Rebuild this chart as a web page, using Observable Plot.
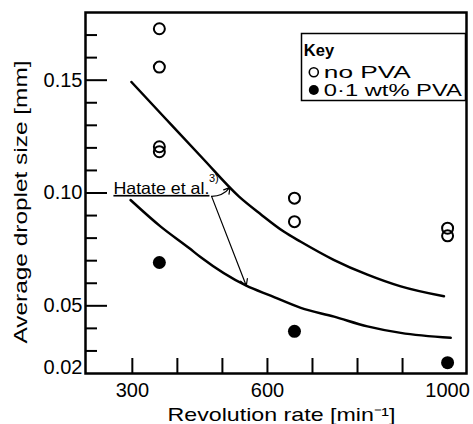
<!DOCTYPE html>
<html><head><meta charset="utf-8">
<script src="https://cdn.jsdelivr.net/npm/d3@7"></script>
<script src="https://cdn.jsdelivr.net/npm/@observablehq/plot@0.6"></script>
<style>body{margin:0;background:#fff}</style>
</head><body><div id="chart"></div>
<script>
// ---- scales / ticks ----
const xDomain = [196, 1042];
const yDomain = [0.02, 0.18];
const xTickValues = [300, 600, 1000];
const xTickLabels = ["300", "600", "1000"];
const xTickMarks = [300, 400, 500, 600, 700, 800, 900];
const yTickValues = [0.02, 0.05, 0.10, 0.15];
const yTickLabels = ["0.02", "0.05", "0.10", "0.15"];
const yMajorTicks = [0.05, 0.10, 0.15];
const yMinorTicks = [0.03, 0.04, 0.06, 0.07, 0.08, 0.09, 0.11, 0.12, 0.13, 0.14, 0.16, 0.17];
const xLabel = "Revolution rate [min⁻¹]";
const yLabel = "Average droplet size [mm]";

// ---- measured data ----
const openX = [360, 360, 360, 360, 660, 660, 1000, 1000];
const openY = [0.1728, 0.1558, 0.1205, 0.1183, 0.0977, 0.0873, 0.0844, 0.0810];
const filledX = [360, 660, 1000];
const filledY = [0.0692, 0.0387, 0.0248];

// ---- correlation curves (Hatate et al.) ----
const upperX = [298, 374, 456, 537, 585, 637, 674, 747, 822, 896, 992];
const upperY = [0.1492, 0.1329, 0.1154, 0.0984, 0.0906, 0.0828, 0.0784, 0.0704, 0.0638, 0.0586, 0.0542];
const lowerX = [296, 363, 426, 452, 553, 607, 674, 748, 822, 896, 1007];
const lowerY = [0.0969, 0.0851, 0.0756, 0.0715, 0.0589, 0.0545, 0.0491, 0.0452, 0.0409, 0.0380, 0.0358];

// ---- legend ----
const legendTitle = ["Key"];
const legendLabels = ["no PVA", "0·1 wt% PVA"];

// ---- annotation ----
const noteText = ["Hatate et al."];
const noteX = [258], noteY = [0.0996];
const refText = ["3)"];
const refX = [481], refY = [0.1050];
const arrowX1 = [476, 476], arrowY1 = [0.0985, 0.0985];
const arrowX2 = [517, 553], arrowY2 = [0.1025, 0.0589];

const pts = (X, Y) => X.map((x, i) => ({x, y: Y[i]}));
const upper = pts(upperX, upperY);
const lower = pts(lowerX, lowerY);
const open = pts(openX, openY);
const filled = pts(filledX, filledY);
const arrows = arrowX1.map((x1, i) => ({x1, y1: arrowY1[i], x2: arrowX2[i], y2: arrowY2[i]}));
const note = noteText.map((t, i) => ({t, x: noteX[i], y: noteY[i]}));
const ref = refText.map((t, i) => ({t, x: refX[i], y: refY[i]}));

const yFmt = d => yTickLabels[yTickValues.indexOf(d)];
const xFmt = d => xTickLabels[xTickValues.indexOf(d)];
const FONT = "'Liberation Sans', Arial, sans-serif";

const svg = Plot.plot({
  width: 473, height: 424,
  marginLeft: 85, marginRight: 7, marginTop: 12, marginBottom: 51,
  x: {domain: xDomain, label: null},
  y: {domain: yDomain, label: null},
  style: {fontFamily: FONT, background: "white", color: "black", overflow: "visible"},
  marks: [
    Plot.axisX(xTickMarks, {tickSize: -15, strokeWidth: 2, tickFormat: () => "", label: null}),
    Plot.axisX(xTickValues, {tickSize: 0, tickPadding: 9, fontSize: 20, tickFormat: xFmt, label: null}),
    Plot.axisY(yMajorTicks, {tickSize: -22, strokeWidth: 2, tickFormat: () => "", label: null}),
    Plot.axisY(yMinorTicks, {tickSize: -12, strokeWidth: 2, tickFormat: () => "", label: null}),
    Plot.axisY(yTickValues.slice(1), {tickSize: 0, tickPadding: 3, fontSize: 20, tickFormat: yFmt, label: null}),
    Plot.axisY(yTickValues.slice(0, 1), {tickSize: 0, tickPadding: 3, fontSize: 20, dy: -6, tickFormat: yFmt, label: null}),
    Plot.frame({stroke: "black", strokeWidth: 2.5}),
    Plot.text([xLabel], {text: d => d, frameAnchor: "bottom", dx: 5.5, dy: 47, lineAnchor: "bottom", fontSize: 18.5}),
    Plot.text([yLabel], {text: d => d, frameAnchor: "left", rotate: -90, dx: -64, dy: 150.5, textAnchor: "start", lineAnchor: "middle", fontSize: 18.5}),
    Plot.line(upper, {x: "x", y: "y", curve: "monotone-x", stroke: "black", strokeWidth: 2.5}),
    Plot.line(lower, {x: "x", y: "y", curve: "monotone-x", stroke: "black", strokeWidth: 2.5}),
    Plot.dot(open, {x: "x", y: "y", r: 5.5, stroke: "black", strokeWidth: 2, fill: "none"}),
    Plot.dot(filled, {x: "x", y: "y", r: 6.5, fill: "black", stroke: null}),
    // legend
    Plot.frame({insetLeft: 216, insetTop: 21, insetBottom: 273, insetRight: 1, stroke: "black", strokeWidth: 1.5}),
    Plot.text(legendTitle, {text: d => d, frameAnchor: "top-right", dx: -162.7, dy: 43, textAnchor: "start", lineAnchor: "bottom", fontSize: 16.5, fontWeight: "bold"}),
    Plot.dot([legendLabels[0]], {frameAnchor: "top-right", dx: -152.7, dy: 59.7, r: 4.5, stroke: "black", strokeWidth: 1.6, fill: "white"}),
    Plot.dot([legendLabels[1]], {frameAnchor: "top-right", dx: -152.7, dy: 77.5, r: 5, fill: "black", stroke: null}),
    Plot.text([legendLabels[0]], {text: d => d, frameAnchor: "top-right", dx: -142.7, dy: 65, textAnchor: "start", lineAnchor: "bottom", fontSize: 16.5}),
    Plot.text([legendLabels[1]], {text: d => d, frameAnchor: "top-right", dx: -142.7, dy: 83.5, textAnchor: "start", lineAnchor: "bottom", fontSize: 16.5}),
    // annotation
    Plot.text(note, {x: "x", y: "y", text: "t", textAnchor: "start", lineAnchor: "bottom", fontSize: 16.5}),
    Plot.text(ref, {x: "x", y: "y", text: "t", textAnchor: "middle", lineAnchor: "bottom", fontSize: 11}),
    Plot.arrow(arrows.slice(0, 1), {x1: "x1", y1: "y1", x2: "x2", y2: "y2", bend: -25, stroke: "black", strokeWidth: 1.2, headLength: 9}),
    Plot.arrow(arrows.slice(1), {x1: "x1", y1: "y1", x2: "x2", y2: "y2", stroke: "black", strokeWidth: 1.2, headLength: 9})
  ]
});

const fits = {};
fits[xLabel] = 228;
fits[yLabel] = 283;
fits[legendLabels[0]] = 87;
fits[legendLabels[1]] = 138;
fits[noteText[0]] = 96;
d3.select(svg).selectAll("text").each(function () {
  const w = fits[this.textContent];
  if (w) {
    this.setAttribute("textLength", w);
    this.setAttribute("lengthAdjust", "spacingAndGlyphs");
  }
  if (this.textContent === noteText[0]) this.setAttribute("text-decoration", "underline");
});
document.getElementById("chart").appendChild(svg);
</script>
</body></html>
